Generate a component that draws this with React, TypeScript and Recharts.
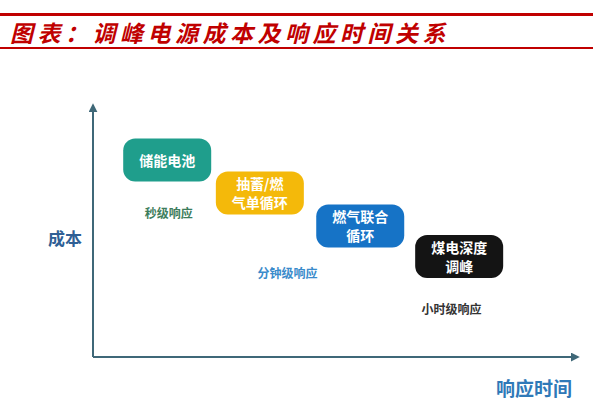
import { ScatterChart, Scatter, XAxis, YAxis } from "recharts";

// 调峰电源：响应时间（横轴）与成本（纵轴）
const sources = ["储能电池", "抽蓄/燃气单循环", "燃气联合循环", "煤电深度调峰"];
const sourceLines = [["储能电池"], ["抽蓄/燃", "气单循环"], ["燃气联合", "循环"], ["煤电深度", "调峰"]];
const responseRank = [1.53, 3.44, 5.51, 7.55];
const costLevel = [7.82, 6.51, 5.2, 3.99];
const boxColors = ["#1f9e8c", "#f4b90a", "#1673c6", "#141414"];

const speedLabels = ["秒级响应", "分钟级响应", "小时级响应"];
const speedX = [1.56, 4.01, 7.39];
const speedY = [5.75, 3.37, 1.94];
const speedColors = ["#3d7d5c", "#3a8bcb", "#333333"];

const axisTitles = ["响应时间", "成本"];

const boxData = sources.map((name, i) => ({
  name,
  lines: sourceLines[i],
  x: responseRank[i],
  y: costLevel[i],
  color: boxColors[i],
}));

const speedData = speedLabels.map((name, i) => ({
  name,
  x: speedX[i],
  y: speedY[i],
  color: speedColors[i],
}));

const FONT = '"Noto Sans CJK SC", "Noto Sans", sans-serif';

function BoxShape(props: any) {
  const { cx, cy, payload } = props;
  const w = 88;
  const h = 43;
  const lines: string[] = payload.lines;
  return (
    <g>
      <rect x={cx - w / 2} y={cy - h / 2} width={w} height={h} rx={12} fill={payload.color} />
      {lines.map((t, i) => (
        <text
          key={i}
          x={cx}
          y={cy + (i - (lines.length - 1) / 2) * 19}
          textAnchor="middle"
          dominantBaseline="central"
          fill="#fff"
          fontSize={14}
          fontWeight={700}
          fontFamily={FONT}
        >
          {t}
        </text>
      ))}
    </g>
  );
}

function SpeedShape(props: any) {
  const { cx, cy, payload } = props;
  return (
    <text
      x={cx}
      y={cy}
      textAnchor="middle"
      dominantBaseline="central"
      fill={payload.color}
      fontSize={12}
      fontWeight={700}
      fontFamily={FONT}
    >
      {payload.name}
    </text>
  );
}

function XTitle(props: any) {
  const { viewBox } = props;
  return (
    <text
      x={viewBox.x + viewBox.width - 6}
      y={viewBox.y + 30}
      textAnchor="end"
      dominantBaseline="central"
      fill="#2f79b8"
      fontSize={19}
      fontWeight={700}
      fontFamily={FONT}
    >
      {axisTitles[0]}
    </text>
  );
}

function YTitle(props: any) {
  const { viewBox } = props;
  return (
    <text
      x={viewBox.x - 27}
      y={viewBox.y + 132}
      textAnchor="middle"
      dominantBaseline="central"
      fill="#2f5f95"
      fontSize={17}
      fontWeight={700}
      fontFamily={FONT}
    >
      {axisTitles[1]}
    </text>
  );
}

export default function App() {
  document.body.style.margin = "0";
  return (
    <div style={{ position: "relative", width: 593, height: 408, background: "#fff", overflow: "hidden" }}>
      <div style={{ position: "absolute", left: 0, top: 13, width: 593, height: 3, background: "#c00000" }} />
      <div style={{ position: "absolute", left: 0, top: 47, width: 593, height: 2, background: "#c00000" }} />
      <div
        style={{
          position: "absolute",
          left: 10,
          top: 17,
          fontFamily: FONT,
          fontStyle: "italic",
          fontWeight: 700,
          fontSize: 23,
          letterSpacing: 4.5,
          color: "#c00000",
          lineHeight: "30px",
          whiteSpace: "nowrap",
        }}
      >
        图表：调峰电源成本及响应时间关系
      </div>
      <div style={{ position: "absolute", left: 0, top: 0 }}>
        <ScatterChart width={593} height={408} margin={{ top: 105, right: 15, bottom: 50, left: 92 }}>
          <defs>
            <marker id="arrow" viewBox="0 0 10 10" refX="8" refY="5" markerWidth="4.5" markerHeight="4.5" orient="auto-start-reverse">
              <path d="M0,0 L10,5 L0,10 z" fill="#3f6878" />
            </marker>
          </defs>
          <XAxis
            type="number"
            dataKey="x"
            domain={[0, 10]}
            height={1}
            tick={false}
            tickLine={false}
            axisLine={{ stroke: "#3f6878", strokeWidth: 2, markerEnd: "url(#arrow)" }}
            label={<XTitle />}
          />
          <YAxis
            type="number"
            dataKey="y"
            domain={[0, 10]}
            width={1}
            tick={false}
            tickLine={false}
            axisLine={{ stroke: "#3f6878", strokeWidth: 2, markerStart: "url(#arrow)" }}
            label={<YTitle />}
          />
          <Scatter data={boxData} shape={<BoxShape />} isAnimationActive={false} />
          <Scatter data={speedData} shape={<SpeedShape />} isAnimationActive={false} />
        </ScatterChart>
      </div>
    </div>
  );
}
